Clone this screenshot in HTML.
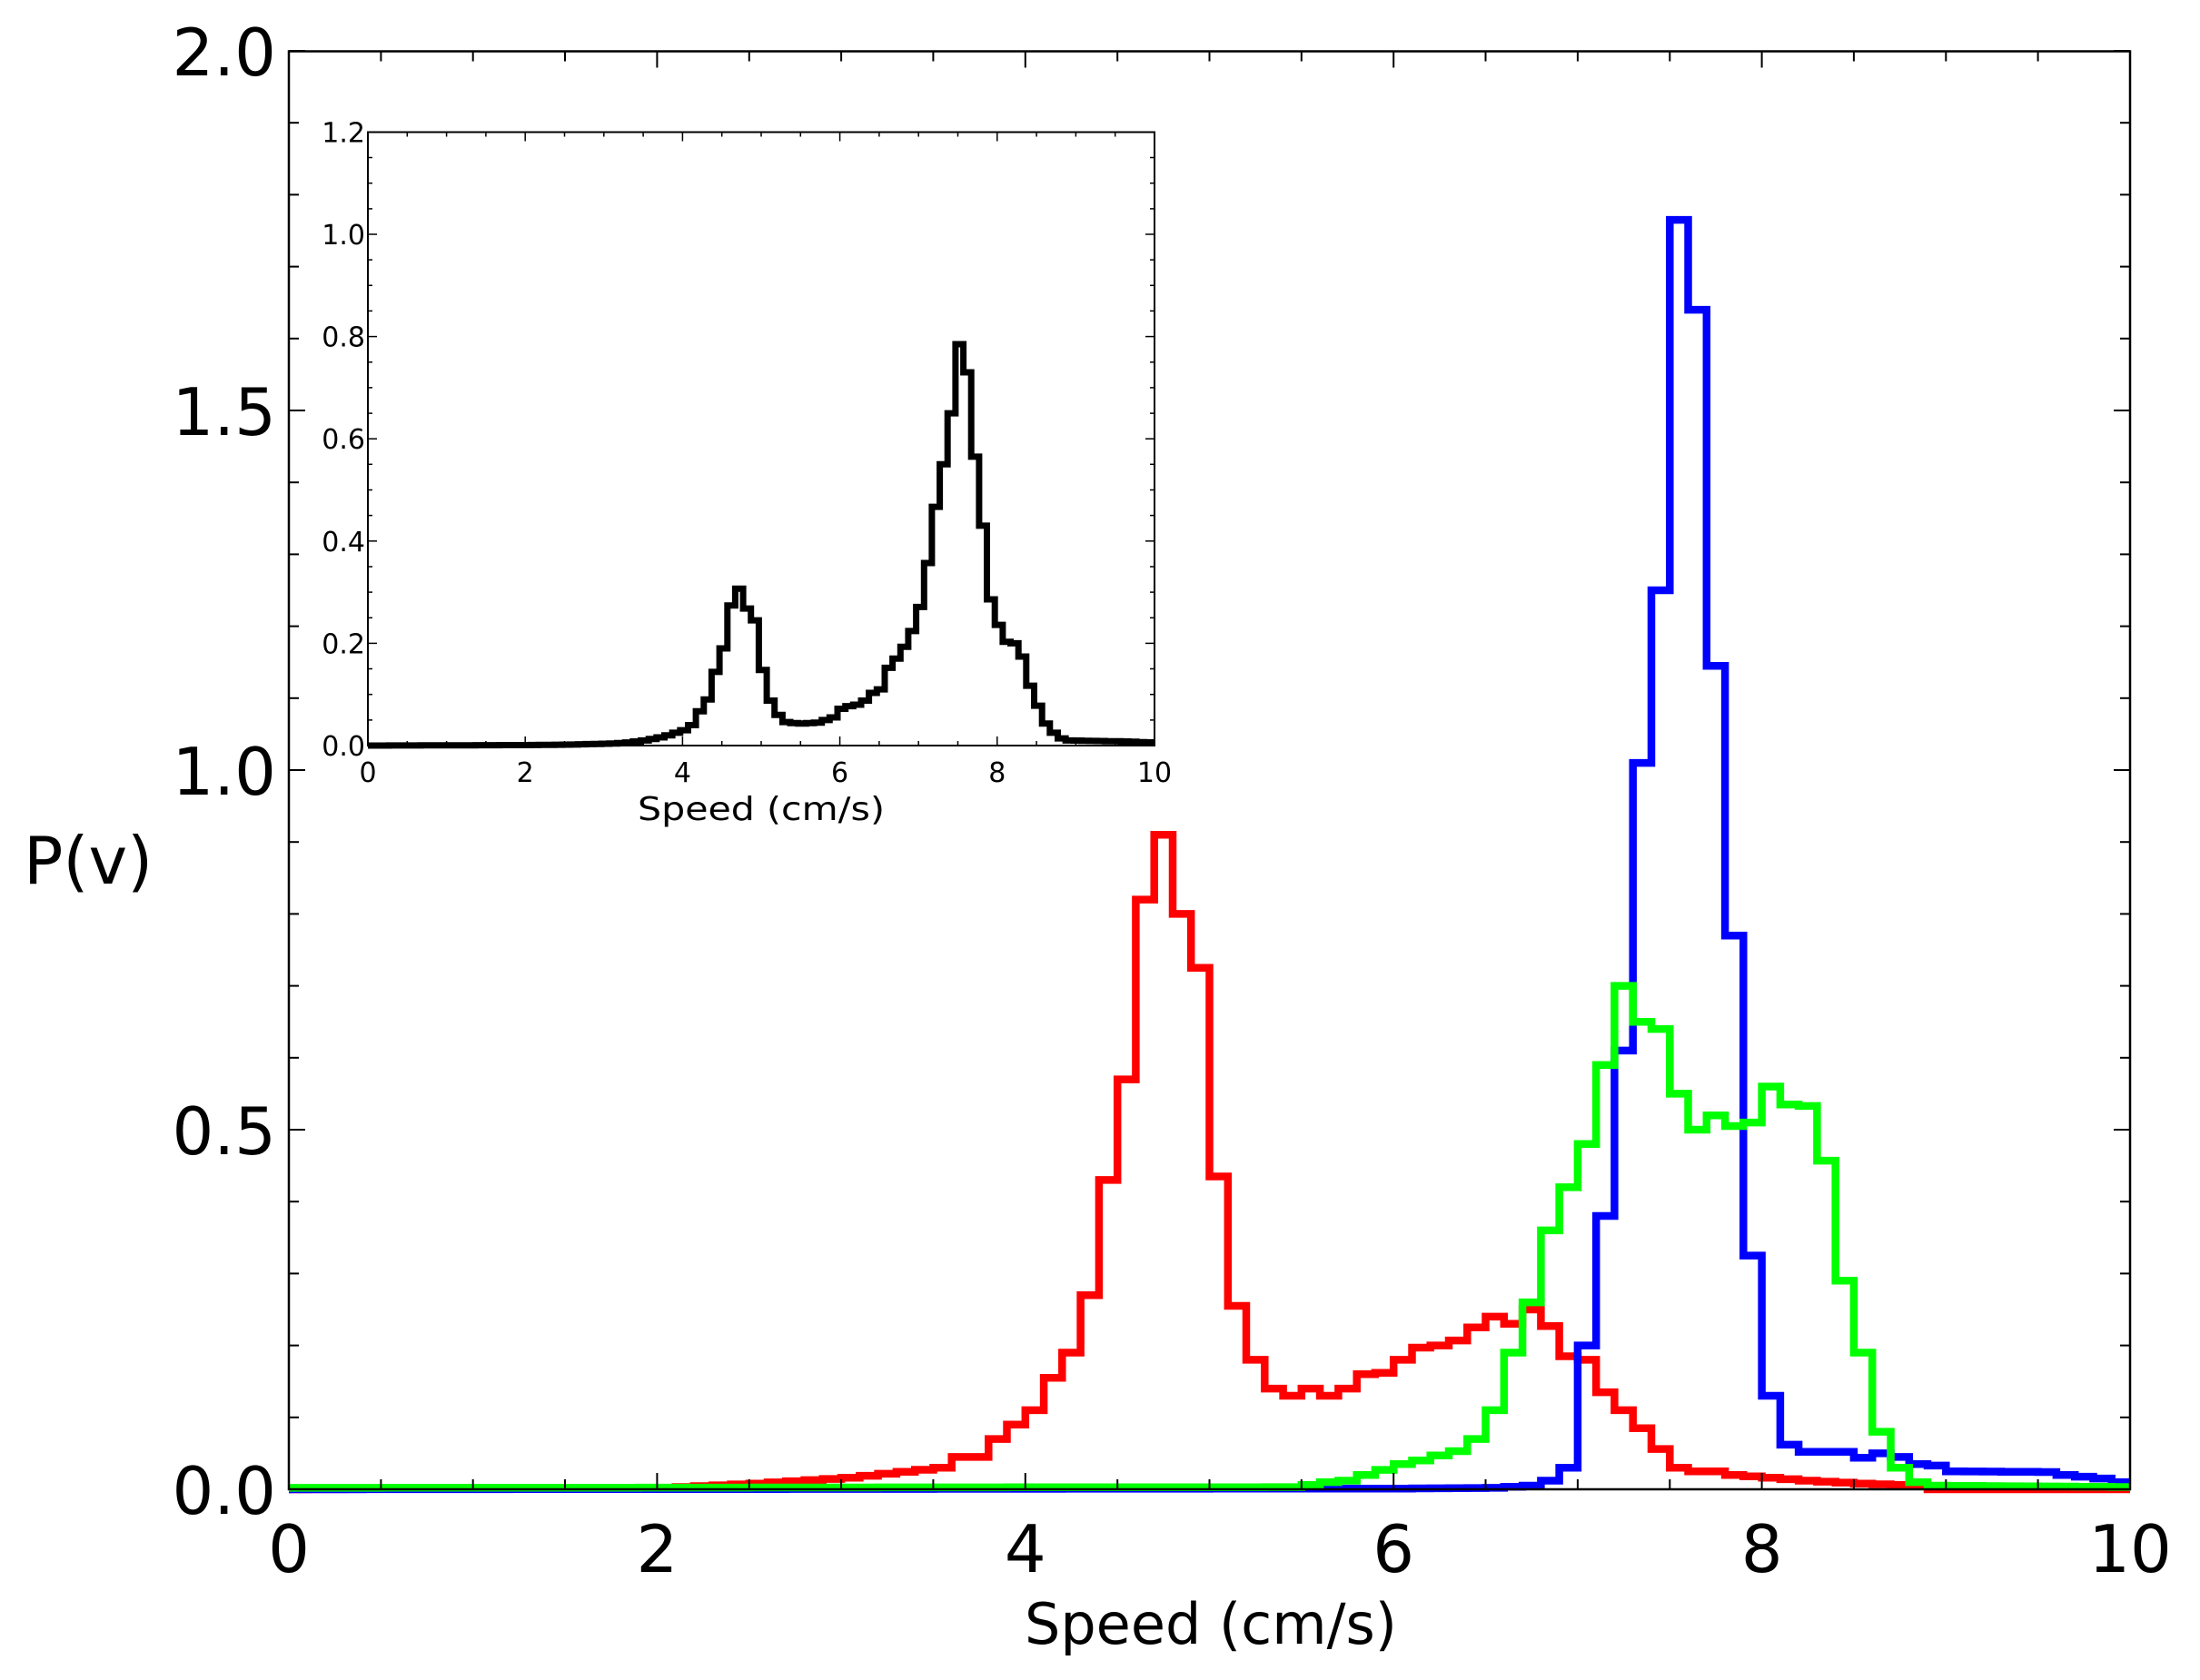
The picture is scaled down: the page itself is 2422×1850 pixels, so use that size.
<!DOCTYPE html>
<html><head><meta charset="utf-8"><style>
html,body{margin:0;padding:0;background:#fff;}
svg{display:block;}
text{font-family:"DejaVu Sans","Liberation Sans",sans-serif;fill:#000;}
</style></head><body>
<svg id="s" xmlns="http://www.w3.org/2000/svg" width="2422" height="1850" viewBox="0 0 2422 1850">
<rect width="2422" height="1850" fill="#fff"/>
<g id="g"></g>
<text x="26" y="973" font-size="72">P(v)</text>
<text x="1333" y="1810" font-size="62" text-anchor="middle" textLength="410" lengthAdjust="spacingAndGlyphs">Speed (cm/s)</text>
<text x="838" y="903" font-size="36" text-anchor="middle" textLength="272" lengthAdjust="spacingAndGlyphs">Speed (cm/s)</text>
</svg>
<script>
var NS="http://www.w3.org/2000/svg",g=document.getElementById("g");
function el(t,a,txt){var e=document.createElementNS(NS,t);for(var k in a)e.setAttribute(k,a[k]);if(txt!==undefined)e.textContent=txt;g.appendChild(e);return e;}
function interp(an,x){if(x<=an[0][0])return an[0][1];for(var i=1;i<an.length;i++){if(x<=an[i][0]+1e-9){var a=an[i-1],b=an[i];var t=(x-a[0])/(b[0]-a[0]);return a[1]+t*(b[1]-a[1]);}}return an[an.length-1][1];}
function hist(an,start,X,Y,col,w){var d="";var first=true;for(var k=-1;k<=100;k++){var x0=start+k*0.1,x1=x0+0.1;if(x1<=0)continue;if(x0>=10)break;var v=interp(an,Math.round((x0-start)*100)/100);var a=Math.max(0,x0),b=Math.min(10,x1);if(first){d+="M"+X(a)+","+Y(v);first=false;}else d+="V"+Y(v);d+="H"+X(b);}el("path",{d:d,fill:"none",stroke:col,"stroke-width":w,"stroke-linejoin":"miter"});}
var MX=function(u){return (318+u*202.7).toFixed(1)},MY=function(v){return (1640-v*792).toFixed(1)};
var red=[[0,0],[1.5,0.001],[2.0,0.002],[2.5,0.008],[3.0,0.016],[3.5,0.03],[3.6,0.045],[3.7,0.045],[3.8,0.07],[3.9,0.09],[4.0,0.11],[4.1,0.155],[4.2,0.19],[4.3,0.27],[4.4,0.43],[4.5,0.57],[4.6,0.82],[4.7,0.91],[4.8,0.80],[4.9,0.725],[5.0,0.435],[5.1,0.255],[5.2,0.18],[5.3,0.14],[5.4,0.13],[5.5,0.14],[5.6,0.13],[5.7,0.14],[5.8,0.16],[5.9,0.162],[6.0,0.18],[6.1,0.197],[6.2,0.2],[6.3,0.207],[6.4,0.225],[6.5,0.24],[6.6,0.23],[6.7,0.25],[6.8,0.227],[6.9,0.185],[7.0,0.18],[7.1,0.135],[7.2,0.11],[7.3,0.085],[7.4,0.056],[7.5,0.03],[7.6,0.025],[7.7,0.025],[7.8,0.02],[8.0,0.016],[8.2,0.012],[8.5,0.008],[8.8,0.005],[8.9,0.0],[10,0]];
var blue=[[0,0],[6.0,0.001],[6.5,0.002],[6.7,0.005],[6.8,0.012],[6.9,0.03],[7.0,0.2],[7.1,0.38],[7.2,0.61],[7.3,1.01],[7.4,1.25],[7.5,1.765],[7.6,1.64],[7.7,1.145],[7.8,0.77],[7.9,0.325],[8.0,0.13],[8.1,0.062],[8.2,0.052],[8.3,0.052],[8.4,0.052],[8.5,0.044],[8.6,0.05],[8.7,0.045],[8.8,0.035],[8.9,0.033],[9.0,0.025],[9.5,0.024],[9.6,0.02],[9.8,0.015],[9.9,0.01],[10,0.01]];
var green=[[0,0.002],[5.4,0.003],[5.5,0.006],[5.6,0.01],[5.7,0.012],[5.8,0.02],[5.9,0.027],[6.0,0.035],[6.1,0.04],[6.2,0.047],[6.3,0.053],[6.4,0.07],[6.5,0.11],[6.6,0.19],[6.7,0.26],[6.8,0.36],[6.9,0.42],[7.0,0.48],[7.1,0.59],[7.2,0.70],[7.3,0.65],[7.4,0.64],[7.5,0.55],[7.6,0.50],[7.7,0.52],[7.8,0.505],[7.9,0.51],[8.0,0.56],[8.1,0.535],[8.2,0.533],[8.3,0.457],[8.4,0.29],[8.5,0.19],[8.6,0.08],[8.7,0.03],[8.8,0.01],[8.9,0.005],[10,0.003]];
hist(red,0,MX,MY,"#ff0000",8.5);
hist(blue,0,MX,MY,"#0000ff",8.5);
hist(green,0,MX,MY,"#00ff00",8.5);
el("rect",{x:318,y:56.5,width:2027,height:1583.5,fill:"none",stroke:"#000","stroke-width":2.5});
var i,x,y,L;
for(i=0;i<=20;i++){x=MX(i*0.5);L=(i%4==0)?18:11;el("line",{x1:x,y1:1640,x2:x,y2:1640-L,stroke:"#000","stroke-width":2});el("line",{x1:x,y1:56.5,x2:x,y2:56.5+L,stroke:"#000","stroke-width":2});}
for(i=0;i<=20;i++){y=MY(i*0.1);L=(i%5==0)?18:11;el("line",{x1:318,y1:y,x2:318+L,y2:y,stroke:"#000","stroke-width":2});el("line",{x1:2345,y1:y,x2:2345-L,y2:y,stroke:"#000","stroke-width":2});}
for(i=0;i<=5;i++){el("text",{x:MX(i*2),y:1731,"font-size":72,"text-anchor":"middle"},String(i*2));}
for(i=0;i<=4;i++){el("text",{x:304,y:(+MY(i*0.5)+27).toFixed(1),"font-size":72,"text-anchor":"end"},(i*0.5).toFixed(1));}
var IX=function(u){return (405+u*86.6).toFixed(1)},IY=function(v){return (821-v*563).toFixed(1)};
el("rect",{x:405,y:145.5,width:866,height:675.5,fill:"#fff",stroke:"none"});
var blk=[[0,0.0],[2.0,0.001],[2.5,0.002],[3.0,0.004],[3.2,0.006],[3.4,0.01],[3.5,0.013],[3.6,0.016],[3.7,0.02],[3.8,0.025],[3.9,0.03],[4.0,0.04],[4.1,0.067],[4.2,0.09],[4.3,0.144],[4.4,0.19],[4.5,0.274],[4.6,0.307],[4.7,0.268],[4.8,0.245],[4.9,0.148],[5.0,0.088],[5.1,0.06],[5.2,0.046],[5.3,0.044],[5.4,0.043],[5.5,0.044],[5.6,0.045],[5.7,0.05],[5.8,0.055],[5.9,0.072],[6.0,0.077],[6.1,0.08],[6.2,0.088],[6.3,0.103],[6.4,0.11],[6.5,0.152],[6.6,0.17],[6.7,0.193],[6.8,0.224],[6.9,0.271],[7.0,0.357],[7.1,0.467],[7.2,0.55],[7.3,0.65],[7.4,0.785],[7.5,0.73],[7.6,0.565],[7.7,0.43],[7.8,0.286],[7.9,0.236],[8.0,0.203],[8.1,0.2],[8.2,0.174],[8.3,0.117],[8.4,0.078],[8.5,0.043],[8.6,0.025],[8.7,0.014],[8.8,0.01],[9.5,0.008],[10,0.005]];
hist(blk,0.07,IX,IY,"#000",7);
el("rect",{x:405,y:145.5,width:866,height:675.5,fill:"none",stroke:"#000","stroke-width":2});
for(i=0;i<=20;i++){x=IX(i*0.5);L=(i%4==0)?10:5;el("line",{x1:x,y1:821,x2:x,y2:821-L,stroke:"#000","stroke-width":1.5});el("line",{x1:x,y1:145.5,x2:x,y2:145.5+L,stroke:"#000","stroke-width":1.5});}
for(i=0;i<=24;i++){y=IY(i*0.05);L=(i%4==0)?10:5;el("line",{x1:405,y1:y,x2:405+L,y2:y,stroke:"#000","stroke-width":1.5});el("line",{x1:1271,y1:y,x2:1271-L,y2:y,stroke:"#000","stroke-width":1.5});}
for(i=0;i<=5;i++){el("text",{x:IX(i*2),y:861,"font-size":30,"text-anchor":"middle"},String(i*2));}
for(i=0;i<=6;i++){el("text",{x:402,y:(+IY(i*0.2)+11).toFixed(1),"font-size":30,"text-anchor":"end"},(i*0.2).toFixed(1));}
</script>
</body></html>
